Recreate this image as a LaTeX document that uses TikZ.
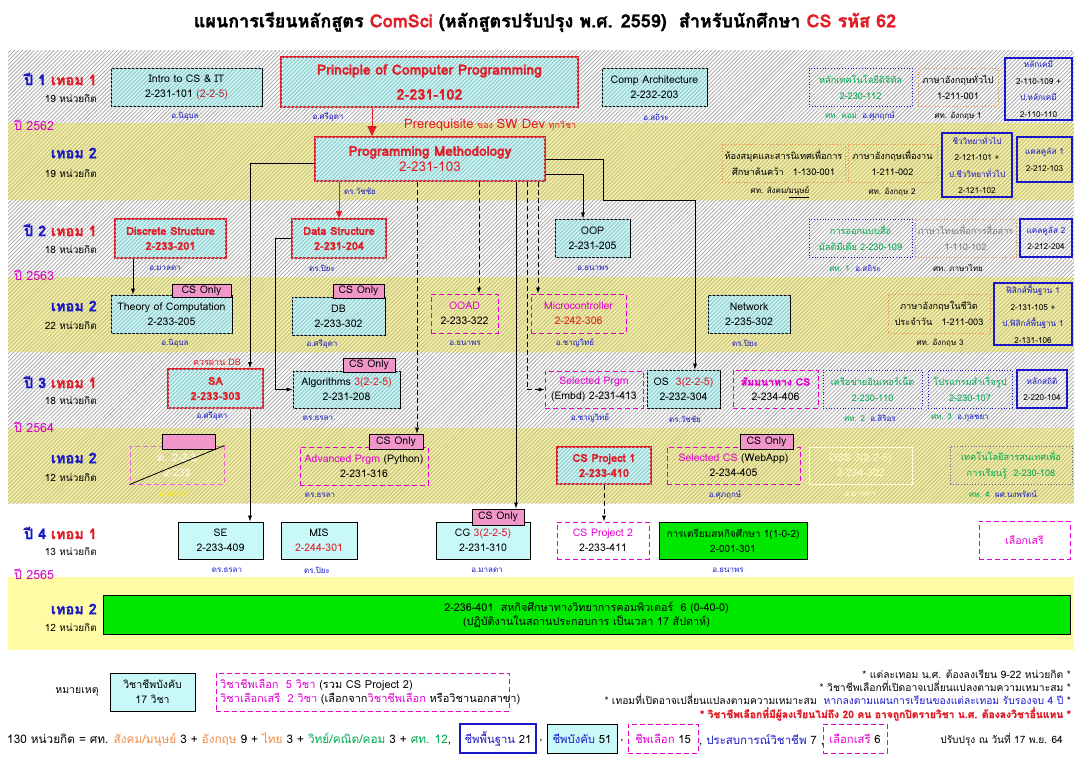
\documentclass[tikz,border=0pt]{standalone}
\usepackage{fontspec}
\setmainfont[Script=Thai, BoldFeatures={FakeBold=1.5}]{Loma}
\usetikzlibrary{arrows.meta,patterns.meta,calc}
\definecolor{tred}{RGB}{225,30,40}
\definecolor{dred}{RGB}{190,40,50}
\definecolor{tblue}{RGB}{25,25,200}
\definecolor{tmag}{RGB}{230,0,210}
\definecolor{ymag}{RGB}{215,0,200}
\definecolor{tgreen}{RGB}{0,170,80}
\definecolor{torange}{RGB}{240,140,70}
\definecolor{cyanbox}{RGB}{200,248,248}
\definecolor{cstripe}{RGB}{150,195,195}
\definecolor{pinktag}{RGB}{240,150,200}
\definecolor{gbox}{RGB}{0,232,0}
\definecolor{yband}{RGB}{244,240,165}
\definecolor{ystripe}{RGB}{195,190,130}
\definecolor{ysolid}{RGB}{255,252,165}
\definecolor{gstripe}{RGB}{175,175,175}
\tikzset{
  every node/.style={font=\fontsize{10.5}{15}\selectfont, inner sep=0pt, align=center},
  hatch/.style={pattern={Lines[angle=45,distance=2.8pt,line width=0.9pt]},pattern color=#1},
  cbox/.style={draw=black, line width=0.8pt, fill=cyanbox, postaction={hatch=cstripe}},
  cboxp/.style={draw=black, line width=0.8pt, fill=cyanbox},
  rbox/.style={draw=tred, line width=1.6pt, fill=cyanbox, postaction={hatch=cstripe}, text=tred, font=\fontsize{11}{15}\selectfont\bfseries},
  pdash/.style={draw=tmag, line width=1pt, dash pattern=on 5pt off 3pt},
  bdot/.style={draw=tblue, line width=0.8pt, dotted, text=tgreen, font=\fontsize{9.2}{16}\selectfont},
  odot/.style={draw=torange, line width=0.8pt, dotted, font=\fontsize{9.2}{16}\selectfont},
  bsolid/.style={draw=tblue, line width=1.1pt, font=\fontsize{8.2}{16.5}\selectfont},
  tagbox/.style={draw=black, line width=0.8pt, fill=pinktag, font=\fontsize{10.5}{10}\selectfont},
  gboxs/.style={draw=black, line width=0.8pt, fill=gbox},
  lbl/.style={font=\fontsize{8}{9}\selectfont, text=tblue},
  arr/.style={-{Latex[length=6pt,width=4pt]}, line width=0.6pt},
  darr/.style={arr, dash pattern=on 5pt off 3pt},
  yr/.style={anchor=west, text=ymag, font=\fontsize{12.5}{13}\selectfont},
  sem/.style={anchor=east, font=\fontsize{14.5}{15}\selectfont\bfseries},
  cred/.style={anchor=east, font=\fontsize{10}{11}\selectfont},
}
\newcommand\bx[7]{\node[#1,minimum width={#5-#3},minimum height={#6-#4}] (#2) at ({(#3+#5)/2},{(#4+#6)/2}) {#7};}
\begin{document}
\begin{tikzpicture}[x=1pt,y=-1pt]
\useasboundingbox (0,0) rectangle (1077,758);
\fill[white] (0,0) rectangle (1077,758);
% bands
\foreach \a/\b in {50/123,200/277,352/428}{
  \fill[white] (8,\a) rectangle (1074,\b);
  \fill[hatch=gstripe] (8,\a) rectangle (1074,\b);}
\foreach \a/\b in {123/200,277/352,428/503}{
  \fill[yband] (8,\a) rectangle (1074,\b);
  \fill[hatch=ystripe] (8,\a) rectangle (1074,\b);}
\fill[ysolid] (8,577) rectangle (1074,650);
% title
\node[font=\fontsize{18}{20}\selectfont\bfseries] (title) at (545,22) {แผนการเรียนหลักสูตร {\color{tred}ComSci} (หลักสูตรปรับปรุง พ.ศ. 2559)\ \ สำหรับนักศึกษา {\color{tred}CS รหัส 62}};
% left labels
\node[sem] (s1) at (97,79) {{\color{tblue}ปี 1} {\color{tred}เทอม 1}};
\node[cred] (c1) at (97,99) {19 หน่วยกิต};
\node[yr] (y62) at (14,125) {ปี 2562};
\node[sem] (s2) at (97,153) {\color{tblue}เทอม 2};
\node[cred] (c2) at (97,174) {19 หน่วยกิต};
\node[sem] (s3) at (97,230) {{\color{tblue}ปี 2} {\color{tred}เทอม 1}};
\node[cred] (c3) at (97,250) {18 หน่วยกิต};
\node[yr] (y63) at (14,275) {ปี 2563};
\node[sem] (s4) at (97,306) {\color{tblue}เทอม 2};
\node[cred] (c4) at (97,326) {22 หน่วยกิต};
\node[sem] (s5) at (97,382) {{\color{tblue}ปี 3} {\color{tred}เทอม 1}};
\node[cred] (c5) at (97,401) {18 หน่วยกิต};
\node[yr] (y64) at (14,427) {ปี 2564};
\node[sem] (s6) at (97,458) {\color{tblue}เทอม 2};
\node[cred] (c6) at (97,478) {12 หน่วยกิต};
\node[sem] (s7) at (97,533) {{\color{tblue}ปี 4} {\color{tred}เทอม 1}};
\node[cred] (c7) at (97,552) {13 หน่วยกิต};
\node[yr] (y65) at (14,574) {ปี 2565};
\node[sem] (s8) at (97,609) {\color{tblue}เทอม 2};
\node[cred] (c8) at (97,628) {12 หน่วยกิต};
% ---------- row 1
\bx{cbox}{intro}{111}{68}{262}{106}{Intro to CS \& IT\\2-231-101 {\color{dred}(2-2-5)}}
\node[lbl] (lintro) at (185,116) {อ.นิอุบล};
\bx{rbox,font=\fontsize{14}{25}\selectfont\bfseries}{ppc}{281}{57}{578}{107}{Principle of Computer Programming\\{\fontsize{14.5}{25}\selectfont 2-231-102}}
\node[lbl] (lppc) at (328,117) {อ.ศรีอุดา};
\bx{cbox}{comp}{602}{68}{707}{106}{Comp Architecture\\2-232-203}
\node[lbl] (lcomp) at (656,117) {อ.สถิระ};
\bx{bdot}{dig}{809}{68}{912}{106}{หลักเทคโนโลยีดิจิทัล\\2-230-112}
\node[lbl] (ldig) at (860,116) {{\color{tgreen}ศท. คอม}\ \ อ.ศุภฤกษ์};
\bx{odot}{eng1}{918}{68}{998}{106}{ภาษาอังกฤษทั่วไป\\1-211-001}
\node[lbl,text=black] (leng1) at (958,116) {ศท. อังกฤษ 1};
\bx{bsolid}{chem}{1005}{58}{1072}{120}{{\color{tblue}หลักเคมี}\\2-110-109 +\\{\color{tblue}ป.หลักเคมี}\\2-110-110}
% ---------- row 2
\bx{rbox,font=\fontsize{13.5}{16}\selectfont\mdseries}{pm}{315}{137}{545}{181}{\textbf{Programming Methodology}\\2-231-103}
\node[lbl] (lpm) at (360,191) {ดร.วัชชัย};
\draw[tred,line width=1pt,-{Triangle[length=10pt,width=9pt]}] (ppc.south -| 372,0) -- (pm.north -| 372,0);
\node[anchor=west,text=tred] (prq) at (404,125) {{\fontsize{13}{12}\selectfont Prerequisite} {\fontsize{9}{8}\selectfont ของ} {\fontsize{13}{12}\selectfont SW Dev} {\fontsize{9}{8}\selectfont ทุกวิชา}};
\bx{odot}{lib}{722}{144}{845}{182}{ห้องสมุดและสารนิเทศเพื่อการ\\ศึกษาค้นคว้า\quad 1-130-001}
\node[lbl,text=black] (llib) at (780,192) {ศท. สังคม/\underline{มนุษย์}};
\bx{odot}{eng2}{848}{144}{937}{182}{ภาษาอังกฤษเพื่องาน\\1-211-002}
\node[lbl,text=black] (leng2) at (892,192) {ศท. อังกฤษ 2};
\bx{bsolid}{bio}{942}{133}{1012}{197}{{\color{tblue}ชีววิทยาทั่วไป}\\2-121-101 +\\{\color{tblue}ป.ชีววิทยาทั่วไป}\\2-121-102}
\bx{bsolid}{calc1}{1017}{137}{1072}{182}{{\color{tblue}แคลคูลัส 1}\\2-212-103}
% ---------- row 3
\bx{rbox}{disc}{115}{219}{226}{258}{Discrete Structure\\2-233-201}
\node[lbl] (ldisc) at (165,268) {อ.มาลดา};
\bx{rbox}{dstr}{292}{219}{386}{258}{Data Structure\\2-231-204}
\node[lbl] (ldstr) at (322,268) {ดร.ปิยะ};
\bx{cbox}{oop}{555}{219}{630}{257}{OOP\\2-231-205}
\node[lbl] (loop) at (593,268) {อ.ธนาพร};
\bx{bdot}{mm}{809}{219}{912}{257}{การออกแบบสื่อ\\มัลติมีเดีย 2-230-109}
\node[lbl] (lmm) at (855,268) {{\color{tgreen}ศท. 1}\ \ อ.สถิระ};
\bx{odot,text=gray}{thai}{915}{219}{1016}{257}{ภาษาไทยเพื่อการสื่อสาร\\1-110-102}
\node[lbl,text=black] (lthai) at (958,268) {ศท. ภาษาไทย};
\bx{bsolid}{calc2}{1020}{219}{1072}{257}{{\color{tblue}แคลคูลัส 2}\\2-212-204}
% ---------- row 4
\bx{cbox}{toc}{111}{295}{232}{333}{Theory of Computation\\2-233-205}
\bx{tagbox}{toct}{172}{284}{231}{297}{CS Only}
\node[lbl] (ltoc) at (175,343) {อ.นิอุบล};
\bx{cbox}{db}{292}{297}{385}{335}{DB\\2-233-302}
\bx{tagbox}{dbt}{333}{284}{384}{298}{CS Only}
\node[lbl] (ldb) at (322,344) {อ.ศรีอุดา};
\bx{pdash}{ooad}{431}{294}{498}{333}{{\color{tmag}OOAD}\\2-233-322}
\node[lbl] (looad) at (465,343) {อ.ธนาพร};
\bx{pdash}{micro}{531}{294}{626}{333}{{\color{tmag}Microcontroller}\\{\color{tred}2-242-306}}
\node[lbl] (lmicro) at (575,343) {อ.ชาญวิทย์};
\bx{cbox}{net}{708}{295}{790}{333}{Network\\2-235-302}
\node[lbl] (lnet) at (745,343) {ดร.ปิยะ};
\bx{odot}{eng3}{888}{294}{990}{333}{ภาษาอังกฤษในชีวิต\\ประจำวัน\quad 1-211-003}
\node[lbl,text=black] (leng3) at (940,343) {ศท. อังกฤษ 3};
\bx{bsolid}{phys}{994}{283}{1072}{345}{{\color{tblue}ฟิสิกส์พื้นฐาน 1}\\2-131-105 +\\{\color{tblue}ป.ฟิสิกส์พื้นฐาน 1}\\2-131-106}
% ---------- row 5
\node[text=tred,font=\fontsize{9}{9}\selectfont] (pass) at (217,362) {ควรผ่าน DB};
\bx{rbox}{sa}{168}{369}{263}{408}{SA\\2-233-303}
\node[lbl] (lsa) at (212,416) {อ.ศรีอุดา};
\bx{cbox}{alg}{293}{371}{400}{408}{Algorithms {\color{tred}3(2-2-5)}\\2-231-208}
\bx{tagbox}{algt}{343}{358}{395}{372}{CS Only}
\node[lbl] (lalg) at (318,418) {ดร.ธรลา};
\bx{pdash}{selp}{545}{371}{643}{408}{{\color{tmag}Selected Prgm}\\(Embd) 2-231-413}
\node[lbl] (lselp) at (590,418) {อ.ชาญวิทย์};
\bx{cbox}{os}{647}{370}{720}{408}{OS\ \ {\color{tred}3(2-2-5)}\\2-232-304}
\node[lbl] (los) at (685,419) {ดร.วัชชัย};
\bx{pdash}{semi}{733}{370}{818}{408}{{\color{tmag}\bfseries สัมมนาทาง CS}\\2-234-406}
\bx{bdot}{inet}{823}{370}{922}{408}{เครือข่ายอินเทอร์เน็ต\\2-230-110}
\node[lbl] (linet) at (870,418) {{\color{tgreen}ศท. 2}\ \ อ.สิริอร};
\bx{bdot}{pkg}{928}{370}{1012}{408}{โปรแกรมสำเร็จรูป\\2-230-107}
\node[lbl] (lpkg) at (960,418) {{\color{tgreen}ศท. 3}\ \ อ.กุลชยา};
\bx{bsolid}{stat}{1017}{370}{1067}{408}{{\color{tblue}หลักสถิติ}\\2-220-104}
% ---------- row 6
\bx{pdash,draw=tmag!60,text=white}{fad1}{130}{446}{224}{484}{ต. 2-2-3\\2-233}
\bx{tagbox}{fad1t}{162}{434}{215}{449}{}
\draw[line width=0.8pt] (fad1.south west) -- (fad1.north east);
\node[lbl,text=yellow!90!orange] (lfad1) at (175,494) {อ.มาลดา};
\bx{pdash}{adv}{300}{447}{428}{485}{{\color{tmag}Advanced Prgm} (Python)\\2-231-316}
\bx{tagbox}{advt}{369}{434}{423}{449}{CS Only}
\node[lbl] (ladv) at (320,495) {ดร.ธรลา};
\bx{rbox}{csp1}{557}{447}{651}{484}{CS Project 1\\2-233-410}
\bx{pdash}{selcs}{667}{447}{800}{484}{{\color{tmag}Selected CS} (WebApp)\\2-234-405}
\bx{tagbox}{selcst}{740}{434}{793}{449}{CS Only}
\node[lbl] (lselcs) at (725,495) {อ.ศุภฤกษ์};
\bx{draw=white!85!yellow,line width=0.8pt,text=white!80!yellow}{fad2}{809}{447}{912}{484}{DSS 3(2-2-5)\\2-234-302}
\node[lbl,text=white!80!yellow] (lfad2) at (860,494) {อ.มาลดา};
\bx{bdot,draw=gray!80!blue}{itl}{950}{446}{1072}{484}{เทคโนโลยีสารสนเทศเพื่อ\\การเรียนรู้\ \ 2-230-108}
\node[lbl] (litl) at (1003,494) {{\color{tgreen}ศท. 4}\ \ ผศ.นงพรัตน์};
% ---------- row 7
\bx{cboxp}{se}{178}{522}{263}{559}{SE\\2-233-409}
\node[lbl] (lse) at (227,570) {ดร.ธรลา};
\bx{cboxp}{mis}{281}{522}{357}{559}{MIS\\{\color{tred}2-244-301}}
\node[lbl] (lmis) at (317,570) {ดร.ปิยะ};
\bx{cboxp}{cg}{436}{522}{530}{559}{CG {\color{tred}3(2-2-5)}\\2-231-310}
\bx{tagbox}{cgt}{472}{509}{524}{525}{CS Only}
\node[lbl] (lcg) at (487,570) {อ.มาลดา};
\bx{pdash}{csp2}{557}{522}{649}{559}{{\color{tmag}CS Project 2}\\2-233-411}
\bx{gboxs,font=\fontsize{10}{15}\selectfont}{prep}{659}{522}{807}{559}{การเตรียมสหกิจศึกษา 1(1-0-2)\\2-001-301}
\node[lbl] (lprep) at (728,570) {อ.ธนาพร};
\bx{pdash}{free}{979}{521}{1070}{559}{\color{tmag}เลือกเสรี}
% ---------- row 8
\bx{gboxs,font=\fontsize{10.8}{14}\selectfont}{coop}{103}{595}{1070}{634}{2-236-401\ \ สหกิจศึกษาทางวิทยาการคอมพิวเตอร์\ \ 6 (0-40-0)\\(ปฏิบัติงานในสถานประกอบการ เป็นเวลา 17 สัปดาห์)}
% ---------- connectors
\coordinate (xsa) at (250,0);
\coordinate (xtoc) at (133,0);
\coordinate (xalg) at (275,0);
\coordinate (xadv) at (417,0);
\coordinate (xooad) at (479,0);
\coordinate (xcg) at (516,0);
\coordinate (xselp) at (527,0);
\coordinate (xmicro) at (538,0);
\coordinate (xoop) at (583,0);
\coordinate (xos1) at (603,0);
\coordinate (xos2) at (695,0);
\coordinate (yos) at (0,200);
\draw[arr] ([yshift=-4pt]pm.west) -| (xsa |- sa.north);
\draw[arr] (xsa |- sa.south) -- (xsa |- se.north);
\draw[tred,line width=0.8pt,-{Triangle[length=7pt,width=6pt]}] (pm.south -| dstr.north) -- (dstr.north);
\draw[arr] (xtoc |- disc.south) -- (xtoc |- toc.north);
\draw[arr] (dstr.west) -| (xalg |- alg.west) -- (alg.west);
\draw[darr] (xadv |- pm.south) -- (xadv |- advt.north);
\draw[darr] (xooad |- pm.south) -- (xooad |- ooad.north);
\draw[arr] (xcg |- pm.south) -- (xcg |- cgt.north);
\draw[darr] (xselp |- pm.south) -- (xselp |- selp.west) -- (selp.west);
\draw[darr] (xmicro |- pm.south) -- (xmicro |- micro.north);
\draw[arr] ([yshift=8pt]pm.south east) -| (xoop |- oop.north);
\draw[arr] (pm.east) -| (xos1 |- yos) -| (xos2 |- os.north);
\draw[darr] (csp1.south) -- (csp1.south |- csp2.north);
% ---------- legend
\node[font=\fontsize{10.5}{11}\selectfont] (note) at (77,692) {หมายเหตุ};
\bx{cboxp,font=\fontsize{10.5}{15}\selectfont}{lg1}{110}{673}{195}{711}{วิชาชีพบังคับ\\17 วิชา}
\bx{pdash}{lg2}{216}{673}{509}{711}{}
\node[anchor=west,align=left,font=\fontsize{11}{14}\selectfont] (lg2t) at (220,692) {{\color{tmag}วิชาชีพเลือก\ \ 5 วิชา} (รวม CS Project 2)\\{\color{tmag}วิชาเลือกเสรี\ \ 2 วิชา} (เลือกจาก{\color{tmag}วิชาชีพเลือก} หรือวิชานอกสาขา)};
\node[anchor=east,align=right,font=\fontsize{10.3}{13.3}\selectfont] (notes) at (1071,695) {* แต่ละเทอม น.ศ. ต้องลงเรียน 9-22 หน่วยกิต *\\* วิชาชีพเลือกที่เปิดอาจเปลี่ยนแปลงตามความเหมาะสม *\\* เทอมที่เปิดอาจเปลี่ยนแปลงตามความเหมาะสม\ \ {\color{tblue}หากลงตามแผนการเรียนของแต่ละเทอม รับรองจบ 4 ปี} *\\{\color{tred}\bfseries * วิชาชีพเลือกที่มีผู้ลงเรียนไม่ถึง 20 คน อาจถูกปิดรายวิชา น.ศ. ต้องลงวิชาอื่นแทน *}};
\node[anchor=west,font=\fontsize{11.8}{12}\selectfont] (sum1) at (7,740) {130 หน่วยกิต = ศท. {\color{torange}สังคม/มนุษย์} 3 + {\color{torange}อังกฤษ} 9 + {\color{torange}ไทย} 3 + {\color{tgreen}วิทย์/คณิต/คอม} 3 + {\color{tgreen}ศท. 12},};
\bx{bsolid,font=\fontsize{11.3}{12}\selectfont}{sum2}{460}{724}{536}{753}{{\color{tblue}ชีพพื้นฐาน} 21}
\node[font=\fontsize{11.3}{12}\selectfont] (sumc1) at (541,741) {,};
\bx{cboxp,font=\fontsize{11.3}{12}\selectfont}{sum3}{547}{724}{617}{753}{{\color{tblue}ชีพบังคับ} 51}
\node[font=\fontsize{11.3}{12}\selectfont] (sumc2) at (622,741) {,};
\bx{pdash,font=\fontsize{11.3}{12}\selectfont}{sum4}{628}{724}{698}{753}{{\color{tmag}ชีพเลือก} 15}
\node[anchor=west,font=\fontsize{11.5}{12}\selectfont] (sum5) at (699,740) {, {\color{tblue}ประสบการณ์วิชาชีพ} 7 ,};
\bx{pdash,font=\fontsize{11.3}{12}\selectfont}{sum6}{823}{724}{887}{753}{{\color{tmag}เลือกเสรี} 6}
\node[anchor=east,font=\fontsize{10.1}{12}\selectfont] (upd) at (1063,740) {ปรับปรุง ณ วันที่ 17 พ.ย. 64};
\end{tikzpicture}
\end{document}
